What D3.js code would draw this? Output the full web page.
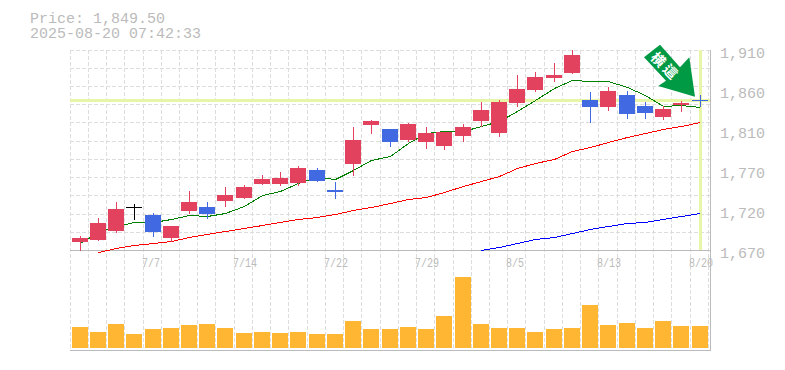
<!DOCTYPE html>
<html>
<head>
<meta charset="utf-8">
<script src="https://cdn.jsdelivr.net/npm/d3@7"></script>
<style>
  body { margin: 0; background: #fff; }
  svg { display: block; }
  text { font-family: "Liberation Mono", monospace; fill: #bbb; }
</style>
</head>
<body>
<div id="chart"></div>
<script>
var svgWidth = 785;
var svgHeight = 370;

var titleLines = ["Price: 1,849.50", "2025-08-20 07:42:33"];
var lastPrice = 1849.5;

var dates = ["7/1", "7/2", "7/3", "7/4", "7/7", "7/8", "7/9", "7/10", "7/11", "7/14", "7/15", "7/16",
    "7/17", "7/18", "7/22", "7/23", "7/24", "7/25", "7/28", "7/29", "7/30", "7/31", "8/1", "8/4", "8/5",
    "8/6", "8/7", "8/8", "8/12", "8/13", "8/14", "8/15", "8/18", "8/19", "8/20"];
var dateLabels = ["7/7", "7/14", "7/22", "7/29", "8/5", "8/13", "8/20"];
var priceTicks = [1670, 1718, 1766, 1814, 1862, 1910];
var gridPrices = [1910, 1888.4, 1866.8, 1845.2, 1823.6, 1800.8, 1779.2, 1757.6, 1736, 1713.2, 1691.6];

var opens = [1679.5, 1682, 1693, 1721.5, 1712, 1684.5, 1717, 1721.5, 1728.5, 1732.5, 1749, 1749, 1750.5, 1766, 1742,
    1773, 1820, 1815, 1802, 1799.5, 1794.5, 1807, 1825, 1810.5, 1846.5, 1862, 1876.5, 1882.5, 1850, 1841.5,
    1856, 1843, 1829.5, 1844, 1850];
var highs = [1687, 1708.5, 1727.5, 1725, 1714.5, 1698.5, 1740.5, 1727.5, 1745.5, 1748, 1760, 1763.5, 1771, 1768.5, 1751.5,
    1817.5, 1826, 1815, 1822.5, 1817.5, 1811.5, 1821, 1847.5, 1850, 1880, 1883.5, 1894.5, 1910, 1859.5, 1865.5,
    1860.5, 1847.5, 1843, 1849, 1856];
var lows = [1670, 1682, 1691.5, 1707, 1687, 1680.5, 1714.5, 1708.5, 1723, 1732.5, 1749, 1748, 1748, 1753, 1732.5,
    1760, 1810.5, 1794.5, 1800.5, 1792.5, 1791, 1800.5, 1819, 1807, 1843, 1860.5, 1873, 1882.5, 1823.5, 1838,
    1828.5, 1828.5, 1827, 1836.5, 1842.5];
var closes = [1684.5, 1702.5, 1719, 1721.5, 1691.5, 1698.5, 1727.5, 1713, 1736, 1745.5, 1755, 1756.5, 1768.5, 1753, 1739.5,
    1802, 1824.5, 1799.5, 1821, 1810.5, 1811.5, 1817.5, 1838, 1847.5, 1863, 1877.5, 1880, 1904, 1841.5, 1860.5,
    1833, 1834.5, 1839, 1846.5, 1849.5];

var maShort = [1678.4, 1691.6, 1698.8, 1703.6, 1703.6, 1707.2, 1712, 1710.8, 1714.4, 1722.8, 1736, 1740.8, 1750.4, 1757.6, 1755.2,
    1766, 1778, 1782.8, 1798.4, 1810.4, 1812.8, 1812.8, 1818.8, 1824.8, 1836.8, 1850, 1864.4, 1874, 1872.8, 1872.8,
    1865.6, 1856, 1842.8, 1844, 1841.6];
var maMiddle = [null, 1667.6, 1672.4, 1676, 1678.4, 1680.8, 1685.6, 1689.2, 1692.8, 1696.4, 1700, 1703.6, 1707.2, 1709.6, 1713.2,
    1718, 1721.6, 1726.4, 1731.2, 1733.6, 1739.6, 1746.8, 1752.8, 1758.8, 1768.4, 1774.4, 1779.2, 1788.8, 1793.6, 1799.6,
    1805.6, 1810.4, 1815.2, 1818.8, 1823.6];
var maLong = [null, null, null, null, null, null, null, null, null, null, null, null, null, null, null,
    null, null, null, null, null, null, null, 1670, 1673.6, 1678.4, 1683.2, 1685.6, 1690.4, 1695.2, 1698.8,
    1702.4, 1703.6, 1707.2, 1710.8, 1714.4];

var volumes = [21, 16, 24, 14, 19, 20, 23, 24, 20, 15, 16, 15, 16, 14, 14, 27, 19, 19, 21, 19, 32, 71, 24, 20, 20, 16, 19, 20, 43, 23, 25, 20, 27, 22, 22];

var svg = d3.select("#chart")
    .append("svg")
    .attr("width", svgWidth)
    .attr("height", svgHeight);

// scales
var xScale = d3.scaleBand().domain(dates).range([70.1, 708.325]);
var yScale = d3.scaleLinear().domain([1670, 1910]).range([250, 50]);
var volScale = d3.scaleLinear().domain([0, 100]).range([348, 248]);

function barLeft(d) {
    return Math.floor(xScale(d));
}
function py(v) {
    return Math.round(yScale(v));
}

// grid
var gridGroup = svg.append("g")
    .attr("stroke", "#ddd")
    .attr("stroke-dasharray", "4,2")
    .attr("shape-rendering", "crispEdges");

gridGroup.selectAll(".h")
    .data(gridPrices)
    .enter()
    .append("line")
    .attr("x1", 70)
    .attr("x2", 710)
    .attr("y1", d => py(d) + 0.5)
    .attr("y2", d => py(d) + 0.5);

gridGroup.selectAll(".v")
    .data(dates)
    .enter()
    .append("line")
    .attr("x1", d => barLeft(d) + 0.5)
    .attr("x2", d => barLeft(d) + 0.5)
    .attr("y1", 50)
    .attr("y2", 350);

gridGroup.append("line")
    .attr("x1", 708.5)
    .attr("x2", 708.5)
    .attr("y1", 50)
    .attr("y2", 350);

// frame
var frame = svg.append("g")
    .attr("stroke", "#bbb")
    .attr("shape-rendering", "crispEdges");
frame.append("line").attr("x1", 70).attr("x2", 711).attr("y1", 250.5).attr("y2", 250.5);
frame.append("line").attr("x1", 70).attr("x2", 711).attr("y1", 350.5).attr("y2", 350.5);
frame.append("line").attr("x1", 710.5).attr("x2", 710.5).attr("y1", 50).attr("y2", 351);

// current price and current date markers
svg.append("rect")
    .attr("x", 70)
    .attr("y", py(lastPrice) - 1)
    .attr("width", 640)
    .attr("height", 3)
    .attr("fill", "#e6f5a8");
svg.append("rect")
    .attr("x", barLeft(dates[34]) + 9)
    .attr("y", 50)
    .attr("width", 3)
    .attr("height", 200)
    .attr("fill", "#e6f5a8");

// volume
svg.append("g").selectAll("rect")
    .data(volumes)
    .enter()
    .append("rect")
    .attr("x", (d, i) => barLeft(dates[i]) + 2)
    .attr("y", d => volScale(d))
    .attr("width", 16)
    .attr("height", d => 348 - volScale(d))
    .attr("fill", "#ffb733");

// moving averages
var maLine = d3.line()
    .defined(d => d[1] !== null)
    .x(d => barLeft(d[0]) + 10.5)
    .y(d => yScale(d[1]) + 0.5);

[[maLong, "#0000ff"], [maMiddle, "#ff0000"], [maShort, "#008000"]].forEach(function (s) {
    svg.append("path")
        .attr("d", maLine(dates.map((d, i) => [d, s[0][i]])))
        .attr("fill", "none")
        .attr("stroke", s[1])
        .attr("stroke-width", 1)
        .attr("shape-rendering", "crispEdges");
});

// candles
function candleColor(i) {
    if (closes[i] > opens[i]) return "#e3425f";
    if (closes[i] < opens[i]) return "#4169e1";
    return "#000";
}

var candles = svg.append("g").selectAll("g")
    .data(dates)
    .enter()
    .append("g")
    .attr("fill", (d, i) => candleColor(i));

candles.append("rect")
    .attr("x", d => barLeft(d) + 10)
    .attr("y", (d, i) => py(highs[i]))
    .attr("width", 1)
    .attr("height", (d, i) => py(lows[i]) - py(highs[i]) + 1);

candles.append("rect")
    .attr("x", d => barLeft(d) + 2)
    .attr("y", (d, i) => py(Math.max(opens[i], closes[i])))
    .attr("width", 16)
    .attr("height", (d, i) => Math.max(1, py(Math.min(opens[i], closes[i])) - py(Math.max(opens[i], closes[i]))));

// axes
var yAxis = d3.axisRight(yScale)
    .tickValues(priceTicks)
    .tickSize(0)
    .tickPadding(0)
    .tickFormat(d => d3.format(",")(Math.round(d / 10) * 10));

var yAxisGroup = svg.append("g")
    .attr("transform", "translate(720, 0)")
    .call(yAxis);
yAxisGroup.select(".domain").remove();
yAxisGroup.selectAll("text")
    .attr("dy", 7)
    .style("font-size", "15px");

var xAxis = d3.axisBottom(xScale)
    .tickValues(dateLabels)
    .tickSize(0)
    .tickPadding(0);

var xAxisGroup = svg.append("g").call(xAxis);
xAxisGroup.select(".domain").remove();
xAxisGroup.selectAll(".tick")
    .attr("transform", d => `translate(${barLeft(d) - 1}, 267)`);
xAxisGroup.selectAll("text")
    .attr("y", 0)
    .attr("dy", 0)
    .attr("text-anchor", "start")
    .attr("transform", "scale(0.77, 1)")
    .style("font-size", "13px");

// title
svg.append("g").selectAll("text")
    .data(titleLines)
    .enter()
    .append("text")
    .attr("x", 30)
    .attr("y", (d, i) => 23 + i * 15)
    .style("font-size", "15px")
    .text(d => d);

// arrow
svg.append("polygon")
    .attr("points", "660,44.7 644,57.3 666,80.7 658.3,86 695,96.7 689.3,57.3 680,67.3")
    .attr("fill", "#009944");

svg.append("text")
    .attr("transform", "translate(666, 66) rotate(45)")
    .attr("text-anchor", "middle")
    .attr("dominant-baseline", "central")
    .style("font-family", "'Noto Sans CJK JP'")
    .style("font-weight", "700")
    .style("font-size", "14px")
    .style("letter-spacing", "3px")
    .style("fill", "#fff")
    .text("横這");
</script>
</body>
</html>
